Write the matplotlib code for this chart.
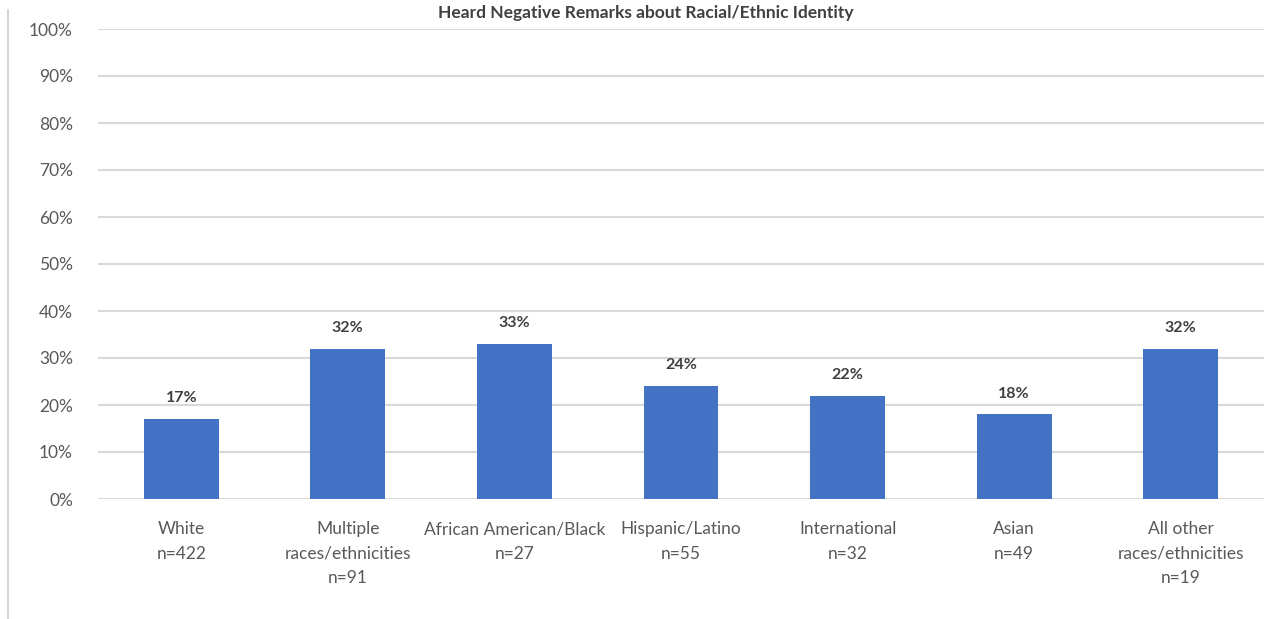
import matplotlib
matplotlib.use("Agg")
import matplotlib.pyplot as plt
from matplotlib.lines import Line2D

plt.rcParams['font.family'] = ['Lato', 'DejaVu Sans']

groups = ["White\nn=422", "Multiple\nraces/ethnicities\nn=91", "African American/Black\nn=27",
          "Hispanic/Latino\nn=55", "International\nn=32", "Asian\nn=49",
          "All other\nraces/ethnicities\nn=19"]
pct = [17, 32, 33, 24, 22, 18, 32]
yticks = [0, 10, 20, 30, 40, 50, 60, 70, 80, 90, 100]

fig = plt.figure(figsize=(12.79, 6.19), dpi=100)
ax = fig.add_axes([98 / 1279, 120 / 619, 1166 / 1279, 470 / 619])

x = range(len(groups))
bars = ax.bar(x, pct, width=0.45, color="#4472C4", zorder=3)
for b, v in zip(bars, pct):
    ax.annotate(f"{v}%", (b.get_x() + b.get_width() / 2, v), xytext=(0, 15),
                textcoords="offset points", ha="center", va="center",
                fontsize=11.5, fontweight="bold", color="#404040")

ax.set_xlim(-0.5, len(groups) - 0.5)
ax.set_ylim(0, 100)
ax.set_yticks(yticks)
ax.set_yticklabels([f"{t}%" for t in yticks])
ax.set_xticks(list(x))
ax.set_xticklabels(groups, linespacing=1.65)
ax.tick_params(axis="y", length=0, pad=18, labelsize=12.5, labelcolor="#595959")
ax.tick_params(axis="x", length=0, pad=16, labelsize=12.5, labelcolor="#595959")
ax.grid(axis="y", color="#d9d9d9", linewidth=1.5, zorder=0)
for s in ax.spines.values():
    s.set_visible(False)

fig.text(0.505, 1 - 13 / 619, "Heard Negative Remarks about Racial/Ethnic Identity",
         ha="center", va="center", fontsize=12.5,
         fontweight="bold", color="#404040")
fig.add_artist(Line2D([8 / 1279, 8 / 1279], [0, 1 - 10 / 619],
                      transform=fig.transFigure, color="#d0d0d0", linewidth=1.2))

fig.savefig("out.png", dpi=100)
